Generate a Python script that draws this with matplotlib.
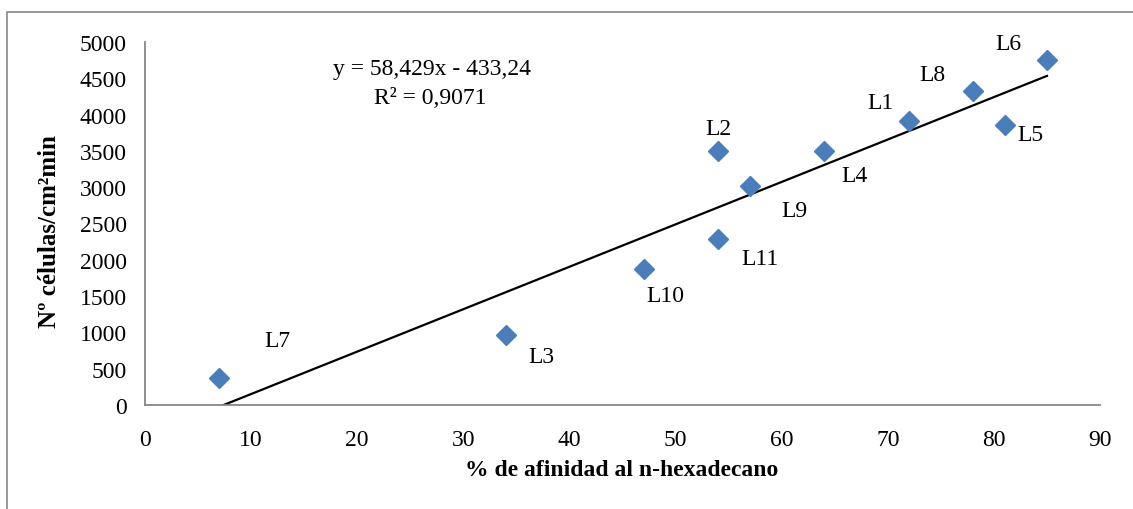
import numpy as np
import matplotlib
matplotlib.use('Agg')
import matplotlib.pyplot as plt
from matplotlib.patches import Rectangle

plt.rcParams['font.family'] = ['Liberation Serif', 'DejaVu Serif']

# % de afinidad al n-hexadecano vs. células adheridas
cepas = ['L7', 'L3', 'L10', 'L11', 'L2', 'L9', 'L4', 'L1', 'L8', 'L5', 'L6']
afinidad = [7, 34, 47, 54, 54, 57, 64, 72, 78, 81, 85]
celulas = [370, 960, 1870, 2290, 3500, 3010, 3500, 3910, 4330, 3850, 4750]

# desplazamiento de cada etiqueta respecto al punto (px)
offsets = {
    'L7': (58, 38), 'L3': (36, -21), 'L10': (22, -26), 'L11': (42, -20),
    'L2': (0, 22), 'L9': (45, -24), 'L4': (30, -25), 'L1': (-29, 19),
    'L8': (-40, 16), 'L5': (26, -9), 'L6': (-39, 17),
}

pendiente = 58.429
ordenada = -433.24
r2 = 0.9071

W, H = 1133, 510
fs = 17
fig = plt.figure(figsize=(W / 100, H / 100), dpi=100)

# marco del gráfico
fig.patches.append(Rectangle((7 / W, -0.1), 1.2, 1 - 13 / H + 0.1,
                             transform=fig.transFigure, fill=False,
                             edgecolor='#878787', linewidth=1.2))

ax = fig.add_axes([145 / W, 1 - 406 / H, (1100 - 145) / W, (406 - 43) / H])
ax.set_xlim(0, 90)
ax.set_ylim(0, 5000)
ax.set_xticks(np.arange(0, 91, 10))
ax.set_yticks(np.arange(0, 5001, 500))
ax.tick_params(length=0, labelsize=fs)
ax.tick_params(axis='x', pad=17)
ax.tick_params(axis='y', pad=13)
for lado in ['top', 'right']:
    ax.spines[lado].set_visible(False)
for lado in ['left', 'bottom']:
    ax.spines[lado].set_color('#878787')
    ax.spines[lado].set_linewidth(1.3)

# línea de tendencia
xs = np.array([min(afinidad), max(afinidad)])
ax.plot(xs, pendiente * xs + ordenada, color='black', linewidth=1.6, zorder=2)

ax.plot(afinidad, celulas, linestyle='none', marker='D', markersize=10.5,
        color='#4A7EBB', markeredgecolor='#4A7EBB', zorder=3, clip_on=False)

for nombre, x, y in zip(cepas, afinidad, celulas):
    dx, dy = offsets[nombre]
    ax.annotate(nombre, (x, y), xytext=(dx * 0.72, dy * 0.72),
                textcoords='offset points', ha='center', va='center', fontsize=fs)

fig.text(333 / W, 1 - 70 / H, 'y = {:.3f}x - {:.2f}'.format(pendiente, -ordenada).replace('.', ','),
         ha='left', va='center', fontsize=fs)
fig.text(374 / W, 1 - 98 / H, 'R² = {:.4f}'.format(r2).replace('.', ','),
         ha='left', va='center', fontsize=fs)

fig.text(622 / W, 1 - 471 / H, '% de afinidad al n-hexadecano',
         ha='center', va='center', fontsize=fs, fontweight='bold')
fig.text(50 / W, 1 - 232 / H, 'Nº células/cm²min', rotation=90,
         ha='center', va='center', fontsize=18, fontweight='bold')

fig.savefig('out.png', dpi=100, facecolor='white')
